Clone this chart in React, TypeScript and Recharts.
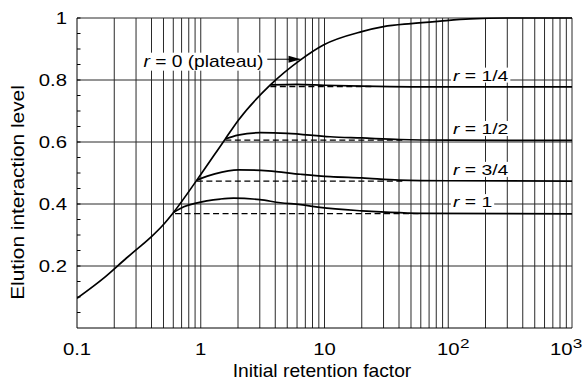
import React from 'react';
import { LineChart, Line, XAxis, YAxis, ReferenceLine, ReferenceDot } from 'recharts';

const FONT = '"Liberation Sans", Arial, Helvetica, sans-serif';
const STRETCH = 1.27;

// r = 0 (plateau)
const plateauX = [0.1, 0.17, 0.25, 0.3, 0.4, 0.5, 0.6, 0.93, 1.58, 2.02, 3.65, 6.4, 9.8, 20, 30, 50, 86, 150, 300, 1000];
const plateauY = [0.096, 0.166, 0.225, 0.252, 0.295, 0.334, 0.372, 0.477, 0.61, 0.671, 0.784, 0.865, 0.913, 0.956, 0.972, 0.982, 0.99, 0.997, 1.0, 1.0];

// r = 1/4
const quarterX = [3.65, 6, 10, 20, 50, 1000];
const quarterY = [0.784, 0.786, 0.783, 0.78, 0.778, 0.778];
const quarterDashX = [3.65, 25];
const quarterDashY = [0.779, 0.779];

// r = 1/2
const halfX = [1.58, 2, 3.03, 5, 11.1, 20, 40.7, 100, 1000];
const halfY = [0.61, 0.622, 0.63, 0.628, 0.617, 0.613, 0.608, 0.606, 0.605];
const halfDashX = [1.58, 45];
const halfDashY = [0.606, 0.606];

// r = 3/4
const threeQX = [0.93, 1.3, 2.02, 3.5, 6.4, 11.1, 20, 40, 100, 1000];
const threeQY = [0.477, 0.497, 0.51, 0.507, 0.496, 0.488, 0.484, 0.477, 0.475, 0.474];
const threeQDashX = [0.93, 45];
const threeQDashY = [0.474, 0.474];

// r = 1
const oneX = [0.6, 0.73, 0.9, 1.44, 1.84, 3, 4.4, 6.4, 9.2, 20, 34, 60, 1000];
const oneY = [0.372, 0.391, 0.402, 0.416, 0.419, 0.414, 0.404, 0.398, 0.389, 0.378, 0.373, 0.37, 0.368];
const oneDashX = [0.62, 60];
const oneDashY = [0.369, 0.369];

// axes
const xTicks = [0.1, 1, 10, 100, 1000];
const xTickBase = ['0.1', '1', '10', '10', '10'];
const xTickExp = ['', '', '', '2', '3'];
const yTicks = [0.05, 0.1, 0.15, 0.2, 0.25, 0.3, 0.35, 0.4, 0.45, 0.5, 0.55, 0.6, 0.65, 0.7, 0.75, 0.8, 0.85, 0.9, 0.95, 1];
const yLabelTicks = [0.2, 0.4, 0.6, 0.8, 1];
const yLabelText = ['0.2', '0.4', '0.6', '0.8', '1'];
const gridX = [0.2, 0.3, 0.4, 0.5, 0.6, 0.7, 0.8, 0.9, 1, 2, 3, 4, 5, 6, 7, 8, 9, 10, 20, 30, 40, 50, 60, 70, 80, 90, 100, 200, 300, 400, 500, 600, 700, 800, 900, 1000];
const gridY = [0.2, 0.4, 0.6, 0.8, 1];

// curve labels
const rLabelText = ['1/4', '1/2', '3/4', '1'];
const rLabelX = [109, 109, 109, 109];
const rLabelY = [0.798, 0.626, 0.494, 0.39];
const plateauLabel = 'r = 0 (plateau)';
const plateauLabelX = 0.344;
const plateauLabelY = 0.843;
const arrowFromX = 3.45;
const arrowToX = 6.4;
const arrowY = 0.867;

const xTitle = 'Initial retention factor';
const yTitle = 'Elution interaction level';

const zip = (xs: number[], ys: number[]) => xs.map((x, i) => ({ x, y: ys[i] }));

const CHAR_W: Record<string, number> = {
  r: 0.333, ' ': 0.278, '=': 0.584, '/': 0.278, '(': 0.333, ')': 0.333,
  p: 0.556, l: 0.222, a: 0.556, t: 0.278, e: 0.556, u: 0.556,
};
const textWidth = (s: string, size: number) =>
  s.split('').reduce((acc, c) => acc + (CHAR_W[c] ?? 0.556), 0) * size;

const XTick = (props: any) => {
  const { x, y, payload } = props;
  const i = xTicks.indexOf(payload.value);
  if (i < 0) return null;
  const base = xTickBase[i];
  const exp = xTickExp[i];
  const last = i === xTicks.length - 1;
  return (
    <g transform={`translate(${x},${y + 26.5}) scale(${STRETCH},1)`}>
      <text x={last ? 0.5 : 0} y={0} textAnchor={last ? 'end' : 'middle'} fontSize={16} fontFamily={FONT} fill="#000">{base}</text>
      {exp ? (
        <text x={last ? 0.5 : 9.2} y={-6.5} textAnchor="start" fontSize={13.5} fontFamily={FONT} fill="#000">{exp}</text>
      ) : null}
    </g>
  );
};

const YTick = (props: any) => {
  const { x, y, payload } = props;
  const i = yLabelTicks.indexOf(payload.value);
  return (
    <g>
      <line x1={x} x2={x + 3.5} y1={y} y2={y} stroke="#000" strokeWidth={1} />
      {i >= 0 ? (
        <text
          transform={`translate(${x - 10},${y + 5.7}) scale(${STRETCH},1)`}
          textAnchor="end"
          fontSize={16}
          fontFamily={FONT}
          fill="#000"
        >
          {yLabelText[i]}
        </text>
      ) : null}
    </g>
  );
};

const XTitle = (props: any) => {
  const vb = props.viewBox || { x: 77, y: 328, width: 495, height: 54 };
  const cx = vb.x + vb.width / 2 - 2.5;
  const cy = vb.y + 49;
  return (
    <text transform={`translate(${cx},${cy}) scale(1.1,1)`} textAnchor="middle" fontSize={17.5} fontFamily={FONT} fill="#000">
      {xTitle}
    </text>
  );
};

const YTitle = (props: any) => {
  const vb = props.viewBox || { x: 0, y: 18, width: 77, height: 310 };
  const cx = vb.x + 24;
  const cy = vb.y + vb.height / 2 + 19.5;
  return (
    <text transform={`translate(${cx},${cy}) rotate(-90) scale(1.16,1)`} textAnchor="middle" fontSize={18} fontFamily={FONT} fill="#000">
      {yTitle}
    </text>
  );
};

const rLabelShape = (txt: string) => (p: any) => {
  const { cx, cy } = p;
  const full = `r = ${txt}`;
  const w = textWidth(full, 15.5) * 1.25;
  return (
    <g>
      <rect x={cx - 2} y={cy - 13} width={w + 4} height={15} fill="#fff" />
      <text transform={`translate(${cx},${cy}) scale(1.25,1)`} fontSize={15.5} fontFamily={FONT} fill="#000">
        <tspan fontStyle="italic">r</tspan>
        <tspan>{` = ${txt}`}</tspan>
      </text>
    </g>
  );
};

const plateauShape = (p: any) => {
  const { cx, cy } = p;
  const w = textWidth(plateauLabel, 16) * 1.2;
  return (
    <g>
      <rect x={cx - 2} y={cy - 14} width={w + 4} height={18} fill="#fff" />
      <text transform={`translate(${cx},${cy}) scale(1.2,1)`} fontSize={16} fontFamily={FONT} fill="#000">
        <tspan fontStyle="italic">r</tspan>
        <tspan>{plateauLabel.slice(1)}</tspan>
      </text>
    </g>
  );
};

const arrowHead = (p: any) => {
  const { cx, cy } = p;
  return <path d={`M${cx},${cy} L${cx - 12},${cy - 3.5} L${cx - 12},${cy + 3.5} Z`} fill="#000" />;
};

const solidSeries = [
  zip(plateauX, plateauY),
  zip(quarterX, quarterY),
  zip(halfX, halfY),
  zip(threeQX, threeQY),
  zip(oneX, oneY),
];
const dashedSeries = [
  zip(quarterDashX, quarterDashY),
  zip(halfDashX, halfDashY),
  zip(threeQDashX, threeQDashY),
  zip(oneDashX, oneDashY),
];

export default function App() {
  return (
    <div style={{ position: 'absolute', left: 0, top: 0, background: '#fff' }}>
      <LineChart width={584} height={382} margin={{ top: 18, right: 12, bottom: 0, left: 0 }}>
        <XAxis
          dataKey="x"
          type="number"
          scale="log"
          domain={[0.1, 1000]}
          allowDataOverflow
          ticks={xTicks}
          interval={0}
          tickSize={0}
          tickMargin={0}
          height={54}
          tick={(p: any) => <XTick {...p} />}
          tickLine={false}
          axisLine={{ stroke: '#000', strokeWidth: 1 }}
          label={(p: any) => <XTitle {...p} />}
        />
        <YAxis
          type="number"
          domain={[0, 1]}
          ticks={yTicks}
          interval={0}
          width={77}
          tickSize={0}
          tickMargin={0}
          tick={(p: any) => <YTick {...p} />}
          tickLine={false}
          axisLine={{ stroke: '#000', strokeWidth: 1 }}
          label={(p: any) => <YTitle {...p} />}
        />
        {gridX.map((v) => (
          <ReferenceLine key={`gx${v}`} x={v} stroke="#2a2a2a" strokeWidth={1} />
        ))}
        {gridY.map((v) => (
          <ReferenceLine key={`gy${v}`} y={v} stroke="#2a2a2a" strokeWidth={1} />
        ))}
        {dashedSeries.map((d, i) => (
          <Line
            key={`d${i}`}
            data={d}
            dataKey="y"
            type="linear"
            stroke="#000"
            strokeWidth={1.3}
            strokeDasharray="6 3.5"
            dot={false}
            isAnimationActive={false}
          />
        ))}
        {solidSeries.map((d, i) => (
          <Line
            key={`s${i}`}
            data={d}
            dataKey="y"
            type="monotone"
            stroke="#000"
            strokeWidth={1.7}
            dot={false}
            isAnimationActive={false}
          />
        ))}
        <ReferenceLine
          segment={[
            { x: arrowFromX, y: arrowY },
            { x: arrowToX, y: arrowY },
          ]}
          stroke="#000"
          strokeWidth={1}
        />
        <ReferenceDot x={arrowToX} y={arrowY} r={0} shape={arrowHead} ifOverflow="visible" />
        <ReferenceDot x={plateauLabelX} y={plateauLabelY} r={0} shape={plateauShape} ifOverflow="visible" />
        {rLabelText.map((t, i) => (
          <ReferenceDot key={`rl${i}`} x={rLabelX[i]} y={rLabelY[i]} r={0} shape={rLabelShape(t)} ifOverflow="visible" />
        ))}
      </LineChart>
    </div>
  );
}
